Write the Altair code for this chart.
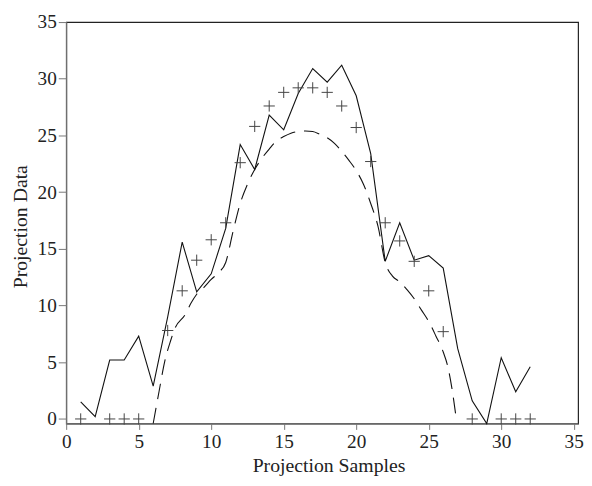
import altair as alt
import pandas as pd

# Solid curve (reconstruction), samples 1..32
solid_x = list(range(1, 33))
solid_y = [1.5, 0.2, 5.2, 5.2, 7.3, 2.9, 9.0, 15.6, 11.2, 12.8, 16.8, 24.2,
           22.0, 26.8, 25.5, 28.7, 30.9, 29.7, 31.2, 28.5, 23.4, 13.9, 17.3, 14.0,
           14.4, 13.3, 6.2, 1.6, -0.4, 5.4, 2.4, 4.6]

# "+" markers (true projection)
mark_x = [1, 3, 4, 5, 7, 8, 9, 10, 11, 12, 13, 14, 15, 16, 17, 18, 19, 20, 21,
          22, 23, 24, 25, 26, 28, 30, 31, 32]
mark_y = [0, 0, 0, 0, 7.8, 11.3, 14.0, 15.8, 17.3, 22.6, 25.8, 27.6, 28.8, 29.2,
          29.2, 28.8, 27.6, 25.7, 22.7, 17.3, 15.7, 13.9, 11.3, 7.7, 0, 0, 0, 0]

# Dashed smooth curve
dash_x = [6.0, 6.4, 6.8, 7.2, 7.5, 8.2, 8.6, 9.0, 9.5, 10.0, 10.5, 11.0, 11.5,
          12.0, 12.5, 13.0, 13.5, 14.0, 14.5, 15.0, 15.5, 16.0, 16.5, 17.0, 17.5,
          18.0, 18.5, 19.0, 19.5, 20.0, 20.5, 21.0, 21.5, 22.0, 22.5, 23.0, 23.5,
          24.0, 24.5, 25.0, 25.5, 26.0, 26.3, 26.6, 26.9]
dash_y = [-0.4, 2.4, 5.1, 6.9, 8.0, 9.2, 10.2, 11.0, 11.6, 12.3, 12.9, 13.8, 16.5,
          19.0, 20.7, 22.0, 23.0, 23.8, 24.5, 24.9, 25.2, 25.35, 25.4, 25.35, 25.1,
          24.8, 24.3, 23.6, 22.8, 21.9, 20.7, 19.0, 17.0, 13.8, 12.6, 12.1, 11.4,
          10.6, 9.6, 8.6, 7.3, 5.9, 4.7, 2.7, 0.0]

x_ticks = [0, 5, 10, 15, 20, 25, 30, 35]
y_ticks = [0, 5, 10, 15, 20, 25, 30, 35]

solid_df = pd.DataFrame({"x": solid_x, "y": solid_y})
mark_df = pd.DataFrame({"x": mark_x, "y": mark_y})
dash_df = pd.DataFrame({"x": dash_x, "y": dash_y})

xscale = alt.Scale(domain=[0, 35.3], nice=False, zero=False)
yscale = alt.Scale(domain=[-0.4, 35], nice=False, zero=False)

xaxis = alt.Axis(values=x_ticks, title="Projection Samples", tickSize=6,
                 labelPadding=3, titleX=266, titleY=49, titleAlign="center",
                 titleBaseline="alphabetic", labelFlush=False)
yaxis = alt.Axis(values=y_ticks, title="Projection Data", tickSize=8,
                 labelPadding=2, titleX=-40, titleY=207, titleAngle=-90,
                 titleAlign="center", titleBaseline="alphabetic")

solid = alt.Chart(solid_df).mark_line(color="#111", strokeWidth=1.1).encode(
    x=alt.X("x:Q", scale=xscale, axis=xaxis),
    y=alt.Y("y:Q", scale=yscale, axis=yaxis),
)

dashed = alt.Chart(dash_df).mark_line(color="#111", strokeWidth=1.1,
                                      strokeDash=[16, 9], interpolate="monotone").encode(
    x=alt.X("x:Q", scale=xscale),
    y=alt.Y("y:Q", scale=yscale),
)

plus = alt.Chart(mark_df).mark_point(shape="M-1,0L1,0M0,-1L0,1", size=130,
                                     filled=False, color="#444", strokeWidth=1,
                                     opacity=1).encode(
    x=alt.X("x:Q", scale=xscale),
    y=alt.Y("y:Q", scale=yscale),
)

chart = alt.layer(solid, dashed, plus).properties(
    width=519, height=407,
    autosize=alt.AutoSizeParams(type="none"),
    padding={"left": 59, "top": 11, "right": 6, "bottom": 52},
).configure_axis(
    labelFont="Liberation Serif", labelFontSize=19.5, labelColor="#222",
    titleFont="Liberation Serif", titleFontSize=20, titleFontWeight="normal",
    titleColor="#222", domainColor="#777", tickColor="#777", grid=False,
    domainWidth=1.2, tickWidth=1,
).configure_view(stroke="#222", strokeWidth=1.2)

chart.save("out.html", embed_options={"renderer": "svg", "actions": False})
